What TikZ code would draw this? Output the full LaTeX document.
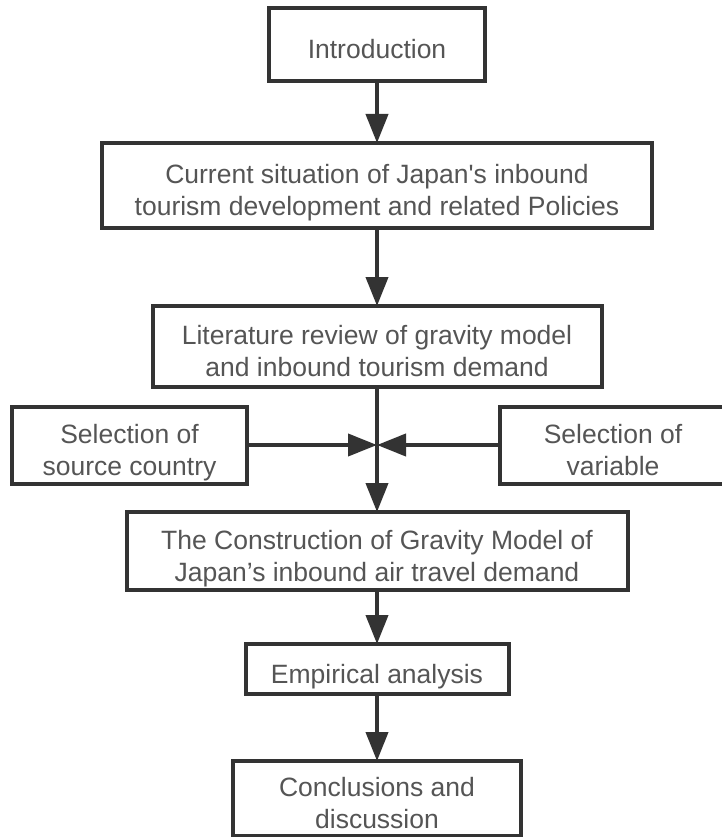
\documentclass[tikz,border=0pt]{standalone}
\usepackage{fontspec}
\setmainfont{Liberation Sans}
\usepackage{tikz}
\usetikzlibrary{arrows.meta,positioning}
\definecolor{boxline}{HTML}{333333}
\definecolor{boxtext}{HTML}{555555}
\tikzstyle{block} = [rectangle,draw=boxline,line width=4pt,fill=white,
  text=boxtext,align=center,outer sep=0pt,inner sep=0pt,text depth=0pt,
  font=\fontsize{26.5}{32}\selectfont]
\tikzstyle{oneline} = [block,text height=28pt]
\tikzstyle{twoline} = [block,text height=60pt]
\tikzstyle{link} = [draw=boxline,line width=4pt,
  -{Triangle[length=29pt,width=22pt]}]

\begin{document}
\begin{tikzpicture}[x=1pt,y=1pt]
\useasboundingbox (0,0) rectangle (721,-837);

\node [oneline,minimum width=216pt,minimum height=73pt] (intro) at (377,-44.5)
  {Introduction};
\node [twoline,minimum width=550pt,minimum height=85pt,below=62pt of intro] (situation)
  {Current situation of Japan\textquotesingle s inbound\\
   tourism development and related Policies};
\node [twoline,minimum width=449pt,minimum height=81pt,below=78pt of situation] (review)
  {Literature review of gravity model\\and inbound tourism demand};
\coordinate [below=58pt of review] (merge);
\node [twoline,minimum width=235pt,minimum height=77pt,left=130pt of merge] (source)
  {Selection of\\source country};
\node [twoline,minimum width=226pt,minimum height=77pt,right=123pt of merge] (variable)
  {Selection of\\variable};
\node [twoline,minimum width=501pt,minimum height=78pt,below=125pt of review] (gravity)
  {The Construction of Gravity Model of\\Japan’s inbound air travel demand};
\node [oneline,minimum width=263pt,minimum height=50pt,below=54pt of gravity] (empirical)
  {Empirical analysis};
\node [twoline,minimum width=288pt,minimum height=75pt,below=67pt of empirical] (conclusion)
  {Conclusions and\\discussion};

% connectors
\draw [link] (intro) -- (situation);
\draw [link] (situation) -- (review);
\draw [link] (review) -- (gravity);
\draw [link] (source) -- (merge);
\draw [link] (variable) -- (merge);
\draw [link] (gravity) -- (empirical);
\draw [link] (empirical) -- (conclusion);
\end{tikzpicture}
\end{document}
